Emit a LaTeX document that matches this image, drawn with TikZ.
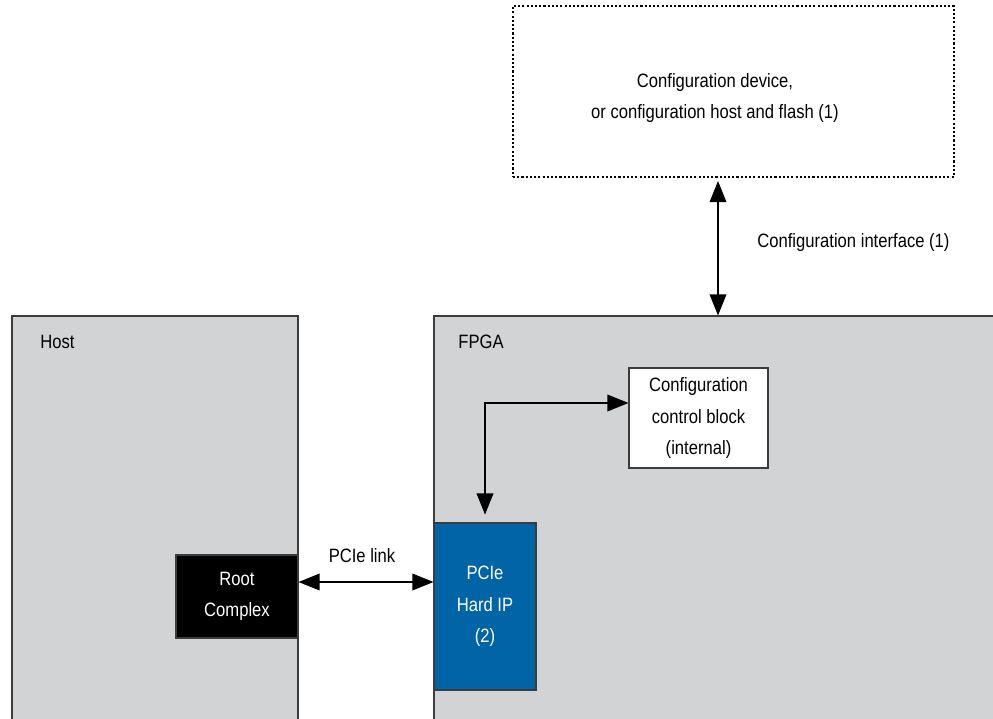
\documentclass[tikz,border=0pt]{standalone}
\usepackage{fontspec}
\setmainfont{Liberation Sans}[FakeStretch=0.86]
\usetikzlibrary{arrows.meta,positioning}
\definecolor{chipgray}{HTML}{D1D3D4}
\definecolor{hipblue}{HTML}{0064A6}
\definecolor{edgegray}{HTML}{3C3C3C}
\newcommand{\px}{0.02cm}

\begin{document}
\begin{tikzpicture}[x=\px,y=-\px,
    font=\fontsize{11}{18}\selectfont,
    every node/.style={align=center, inner sep=0pt},
    blk/.style={draw=edgegray, line width=0.6pt},
    lnk/.style={{Triangle[length=12pt,width=9.5pt]}-{Triangle[length=12pt,width=9.5pt]},
      line width=0.75pt}]
  \useasboundingbox[fill=white] (0,0) rectangle (993,719);
  \clip (0,0) rectangle (993,719);

  % outer chips
  \node[blk, fill=chipgray, minimum width=286*\px, minimum height=424*\px]
    (host) at (155,528) {};
  \node[blk, fill=chipgray, minimum width=576*\px, minimum height=424*\px]
    (fpga) at (722,528) {};
  \node[anchor=west] (hostlbl) at (40,342) {Host};
  \node[anchor=west] (fpgalbl) at (458,342) {FPGA};

  % configuration device
  \node[draw=black, dash pattern=on 1.2pt off 1.2pt, line width=0.6pt,
    minimum width=441*\px, minimum height=171*\px]
    (cfgdev) at (733.5,91.5) {};
  \node (cfgdevlbl) at (715,98) {Configuration device,\\or configuration host and flash (1)};

  % blocks
  \node[blk, fill=black, text=white, minimum width=122*\px, minimum height=83*\px]
    (rootcx) at (237,596.5) {Root\\Complex};
  \node[blk, fill=hipblue, text=white, minimum width=102*\px, minimum height=167*\px]
    (hardip) at (485,606.5) {PCIe\\Hard IP\\(2)};
  \node[blk, fill=white, minimum width=139*\px, minimum height=100*\px]
    (ccb) at (698.5,418) {Configuration\\control block\\(internal)};

  % connectors
  \coordinate (cfgx) at (718,0);
  \coordinate (lnky) at (0,582);
  \coordinate (bend) at (485,403);
  \draw[lnk, shorten <=2pt] (cfgdev.south -| cfgx) -- (fpga.north -| cfgx);
  \node[anchor=west] (cfgif) at (757,243) {Configuration interface (1)};
  \draw[lnk] (rootcx.east |- lnky) -- (hardip.west |- lnky);
  \node (pcielbl) at (362,556) {PCIe link};
  \draw[lnk, shorten <=4.5pt] (hardip.north -| bend) -- (bend) -- (ccb.west |- bend);
\end{tikzpicture}
\end{document}
